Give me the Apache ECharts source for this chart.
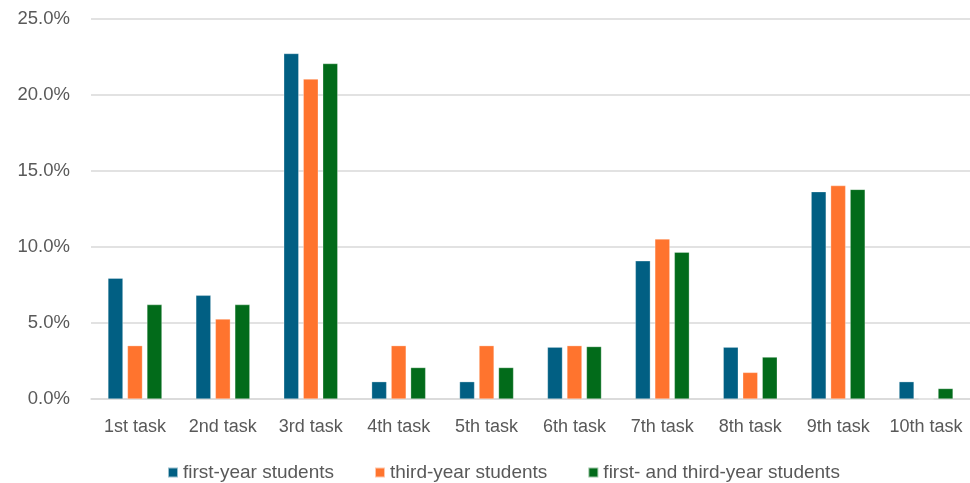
<!DOCTYPE html>
<html>
<head>
<meta charset="utf-8">
<script src="https://cdn.jsdelivr.net/npm/echarts@6/dist/echarts.min.js"></script>
<style>
  html, body { margin: 0; padding: 0; background: #ffffff; }
  #chart { width: 970px; height: 483px; }
</style>
</head>
<body>
<div id="chart"></div>
<script>
// Task categories along the x axis
const tasks = ['1st task', '2nd task', '3rd task', '4th task', '5th task',
               '6th task', '7th task', '8th task', '9th task', '10th task'];

// Share of students per task, in percent
const firstYear = [7.95, 6.82, 22.73, 1.14, 1.14, 3.41, 9.09, 3.41, 13.64, 1.14];
const thirdYear = [3.51, 5.26, 21.05, 3.51, 3.51, 3.51, 10.53, 1.75, 14.04, 0];
const bothYears = [6.21, 6.21, 22.07, 2.07, 2.07, 3.45, 9.66, 2.76, 13.79, 0.69];

const seriesNames = ['first-year students', 'third-year students', 'first- and third-year students'];
const seriesColors = ['#015F83', '#FF742E', '#026B1A'];

// Y axis ticks
const yMin = 0, yMax = 25, yStep = 5;

const chart = echarts.init(document.getElementById('chart'));
const fontFamily = '"Liberation Sans", Arial, sans-serif';

const makeSeries = (name, data, color) => ({
  name: name,
  type: 'bar',
  data: data,
  barWidth: 15,
  barGap: '30%',
  itemStyle: { color: color, borderColor: 'rgba(255,255,255,0.6)', borderWidth: 0.5 },
  emphasis: { disabled: true }
});

chart.setOption({
  animation: false,
  textStyle: { fontFamily: fontFamily },
  grid: { left: 91, right: 0, top: 19, bottom: 84, containLabel: false },
  legend: {
    left: 167,
    top: 463,
    padding: 0,
    itemWidth: 10,
    itemHeight: 10,
    itemGap: 40,
    icon: 'rect',
    textStyle: { fontSize: 19, color: '#595959', fontFamily: fontFamily },
    data: seriesNames
  },
  xAxis: {
    type: 'category',
    data: tasks,
    axisLine: { show: true, lineStyle: { color: '#d9d9d9', width: 1.5 } },
    axisTick: { show: false },
    axisLabel: { fontSize: 18, color: '#595959', margin: 19, interval: 0 }
  },
  yAxis: {
    type: 'value',
    min: yMin,
    max: yMax,
    interval: yStep,
    axisLine: { show: false },
    axisTick: { show: false },
    splitLine: { lineStyle: { color: '#d9d9d9', width: 1.5 } },
    axisLabel: {
      fontSize: 18.5,
      color: '#595959',
      margin: 21,
      formatter: v => v.toFixed(1) + '%'
    }
  },
  series: [
    makeSeries(seriesNames[0], firstYear, seriesColors[0]),
    makeSeries(seriesNames[1], thirdYear, seriesColors[1]),
    makeSeries(seriesNames[2], bothYears, seriesColors[2])
  ]
});
</script>
</body>
</html>
